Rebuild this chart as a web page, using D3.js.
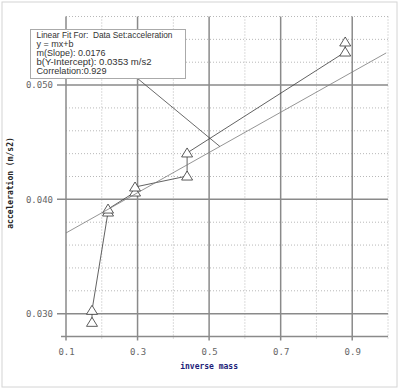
<!DOCTYPE html>
<html><head><meta charset="utf-8">
<script src="https://cdn.jsdelivr.net/npm/d3@7"></script>
<style>body{margin:0;background:#fff} text{white-space:pre}</style>
</head><body>
<svg id="c" width="400" height="389"></svg>
<script>
// data
const xVals = [0.1727, 0.1727, 0.2175, 0.2175, 0.293, 0.293, 0.4385, 0.4385, 0.8804, 0.8804];
const yVals = [0.02924, 0.03029, 0.03889, 0.03915, 0.04064, 0.04108, 0.04204, 0.04406, 0.05289, 0.05377];
const xMajor = [0.1, 0.3, 0.5, 0.7, 0.9];
const xMinor = [0.2, 0.4, 0.6, 0.8, 1.0];
const yMajor = [0.030, 0.040, 0.050];
const yMinor = [0.028, 0.032, 0.034, 0.036, 0.038, 0.042, 0.044, 0.046, 0.048, 0.052, 0.054, 0.056];
const slope = 0.0176, intercept = 0.0353;
const fitLines = ["Linear Fit For:  Data Set:acceleration", "y = mx+b", "m(Slope): 0.0176", "b(Y-Intercept): 0.0353 m/s2", "Correlation:0.929"];
const fitLineWidths = [136, 37, 69, 115, 70];

const svg = d3.select("#c");
const x = d3.scaleLinear([0.1, 1.0], [66, 388]);
const y = d3.scaleLinear([0.028, 0.056], [336.5, 16.5]);

svg.append("rect").attr("x", 2).attr("y", 2).attr("width", 395).attr("height", 385)
  .attr("fill", "#fff").attr("stroke", "#d4d4d4");

const g = svg.append("g");
// minor grid
g.selectAll(".vm").data(xMinor).join("line")
  .attr("x1", d => x(d)).attr("x2", d => x(d)).attr("y1", y(0.056)).attr("y2", y(0.028) + 4)
  .attr("stroke", "#b8b8b8").attr("stroke-width", 1).attr("stroke-dasharray", "1,2");
g.selectAll(".hm").data(yMinor).join("line")
  .attr("x1", x(0.1)).attr("x2", x(1.0)).attr("y1", d => y(d)).attr("y2", d => y(d))
  .attr("stroke", "#b8b8b8").attr("stroke-width", 1).attr("stroke-dasharray", "1,2");
// major grid
g.selectAll(".vM").data(xMajor).join("line")
  .attr("x1", d => x(d)).attr("x2", d => x(d)).attr("y1", y(0.056)).attr("y2", y(0.028) + 4)
  .attr("stroke", "#8a8a8a").attr("stroke-width", 1.5);
g.selectAll(".hM").data(yMajor).join("line")
  .attr("x1", x(0.1) - 9).attr("x2", x(1.0)).attr("y1", d => y(d)).attr("y2", d => y(d))
  .attr("stroke", "#8a8a8a").attr("stroke-width", 1.5);
// bottom axis line
g.append("line").attr("x1", x(0.1) - 5).attr("x2", x(1.0)).attr("y1", y(0.028)).attr("y2", y(0.028))
  .attr("stroke", "#8a8a8a").attr("stroke-width", 1.5);

// axes labels via d3 axes
const xAxis = svg.append("g").attr("transform", `translate(0,${y(0.028)})`)
  .call(d3.axisBottom(x).tickValues(xMajor).tickFormat(d3.format(".1f")).tickSize(0).tickPadding(12));
const yAxis = svg.append("g").attr("transform", `translate(${x(0.1)},0)`)
  .call(d3.axisLeft(y).tickValues(yMajor).tickFormat(d3.format(".3f")).tickSize(0).tickPadding(13));
[xAxis, yAxis].forEach(a => {
  a.select(".domain").remove();
  a.selectAll("text").attr("fill", "#666").style("font-family", "DejaVu Sans Mono").style("font-size", "9px");
});

// connecting line
const pts = xVals.map((v, i) => [v, yVals[i]]);
svg.append("path").datum(pts)
  .attr("d", d3.line().x(d => x(d[0])).y(d => y(d[1])))
  .attr("fill", "none").attr("stroke", "#3a3a3a").attr("stroke-width", 0.8);

// markers
svg.selectAll(".tri").data(pts).join("path")
  .attr("d", d => { const cx = x(d[0]), cy = y(d[1]); return `M${cx},${cy - 5}L${cx + 5.5},${cy + 4}L${cx - 5.5},${cy + 4}Z`; })
  .attr("fill", "#fff").attr("stroke", "#333").attr("stroke-width", 0.8);

// fit line
svg.append("line").attr("x1", x(0.1)).attr("y1", y(slope * 0.1 + intercept))
  .attr("x2", x(0.995)).attr("y2", y(slope * 0.995 + intercept))
  .attr("stroke", "#7a7a7a").attr("stroke-width", 0.8);

// leader
const ax = 0.53;
svg.append("line").attr("x1", 137).attr("y1", 78).attr("x2", x(ax)).attr("y2", y(slope * ax + intercept))
  .attr("stroke", "#444").attr("stroke-width", 0.8);

// fit box
svg.append("rect").attr("x", 30.5).attr("y", 29.5).attr("width", 155).attr("height", 49)
  .attr("fill", "#fff").attr("stroke", "#aaa").attr("stroke-width", 1);
svg.selectAll(".ft").data(fitLines).join("text")
  .attr("x", 36.5).attr("y", (d, i) => 37.5 + i * 9.2)
  .attr("textLength", (d, i) => fitLineWidths[i]).attr("lengthAdjust", "spacingAndGlyphs")
  .attr("fill", "#333").style("font-family", "Liberation Sans").style("font-size", "9px")
  .text(d => d);

// axis titles
svg.append("text").attr("x", x(0.5)).attr("y", 369).attr("text-anchor", "middle")
  .attr("fill", "#1c1c78").style("font-family", "DejaVu Sans Mono").style("font-weight", "bold").style("font-size", "8px")
  .text("inverse mass");
svg.append("text").attr("transform", "translate(13,183) rotate(-90)").attr("text-anchor", "middle")
  .attr("fill", "#222").style("font-family", "DejaVu Sans Mono").style("font-weight", "bold").style("font-size", "8px")
  .text("acceleration (m/s2)");
</script>
</body></html>
